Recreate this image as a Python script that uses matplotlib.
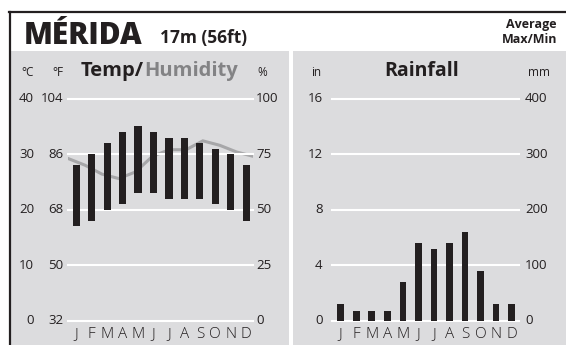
import matplotlib
matplotlib.use("Agg")
import matplotlib.pyplot as plt
from matplotlib.patches import Rectangle
from matplotlib.lines import Line2D
from matplotlib.transforms import blended_transform_factory as blend

# ---- data ----
months = ['J', 'F', 'M', 'A', 'M', 'J', 'J', 'A', 'S', 'O', 'N', 'D']
temp_max_c = [28, 30, 32, 34, 35, 34, 33, 33, 32, 31, 30, 28]
temp_min_c = [17, 18, 20, 21, 23, 23, 22, 22, 22, 21, 20, 18]
humidity_pct = [73, 70, 66, 64, 67, 74, 77, 77, 81, 79, 76, 74]
rain_mm = [29, 18, 18, 18, 69, 140, 129, 140, 160, 89, 29, 29]

c_ticks = [0, 10, 20, 30, 40]
f_ticks = ['32', '50', '68', '86', '104']
h_ticks = ['0', '25', '50', '75', '100']
in_ticks = ['0', '4', '8', '12', '16']
mm_ticks = [0, 100, 200, 300, 400]

FONT = ['Open Sans', 'DejaVu Sans']
plt.rcParams['font.family'] = FONT

W, H = 566, 345
fig = plt.figure(figsize=(W / 100, H / 100), dpi=100)
fig.patch.set_facecolor('white')

def fx(px):
    return px / W

def fy(py):
    return 1 - py / H

GRAY = '#dcdcde'
BAR = '#231f20'

# panels
fig.add_artist(Rectangle((fx(10), fy(345)), fx(289) - fx(10), fy(51) - fy(345),
                         transform=fig.transFigure, color=GRAY, zorder=0, lw=0))
fig.add_artist(Rectangle((fx(293), fy(345)), fx(566) - fx(293), fy(51) - fy(345),
                         transform=fig.transFigure, color=GRAY, zorder=0, lw=0))
# border
fig.add_artist(Line2D([fx(9), fx(566)], [fy(12), fy(12)], transform=fig.transFigure,
                      color='#231f20', lw=1.6, zorder=5))
fig.add_artist(Line2D([fx(9.5), fx(9.5)], [fy(12), fy(345)], transform=fig.transFigure,
                      color='#231f20', lw=1.6, zorder=5))

# header text
fig.text(fx(24), fy(44), 'MÉRIDA', fontsize=21.5, fontweight='heavy', color='#231f20',
         ha='left', va='baseline')
fig.text(fx(160), fy(43), '17m (56ft)', fontsize=12.5, fontweight='bold', color='#231f20',
         ha='left', va='baseline')
fig.text(fx(557), fy(28), 'Average', fontsize=9, fontweight='bold', color='#231f20',
         ha='right', va='baseline')
fig.text(fx(557), fy(43), 'Max/Min', fontsize=9, fontweight='bold', color='#231f20',
         ha='right', va='baseline')

# ---- temperature / humidity panel ----
axT = fig.add_axes([fx(68.3), fy(320.5), fx(253.3) - fx(68.3), fy(98.7) - fy(320.5)])
axT.set_xlim(-0.52, 11.46)
axT.set_ylim(0, 40)
axT.axis('off')
for c in c_ticks:
    axT.axhline(c, color='white', lw=1.5, zorder=1, clip_on=False)
x = list(range(len(months)))
axT.bar(x, [hi - lo for hi, lo in zip(temp_max_c, temp_min_c)], bottom=temp_min_c,
        width=0.47, color=BAR, zorder=3)

axH = fig.add_axes(axT.get_position(), frameon=False)
axH.set_xlim(0, len(humidity_pct) - 1)
axH.set_ylim(0, 100)
axH.axis('off')
axH.plot(range(len(humidity_pct)), humidity_pct, color='#a7a7a9', lw=2.2,
         solid_joinstyle='miter', zorder=2)
axT.set_zorder(3)
axH.set_zorder(2)
axT.patch.set_visible(False)

trT = blend(fig.transFigure, axT.transData)
for c, f, h in zip(c_ticks, f_ticks, h_ticks):
    fig.text(fx(34), c, str(c), transform=trT, ha='right', va='center', fontsize=9.5, color='#231f20')
    fig.text(fx(63.5), c, f, transform=trT, ha='right', va='center', fontsize=9.5, color='#231f20')
    fig.text(fx(256), c, h, transform=trT, ha='left', va='center', fontsize=9.5, color='#231f20')
trTx = blend(axT.transData, fig.transFigure)
for i, m in enumerate(months):
    fig.text(i, fy(335), m, transform=trTx, ha='center', va='center', fontsize=11,
             color='#231f20', fontweight='light')

fig.text(fx(27.5), fy(73), '°C', ha='center', va='center', fontsize=8.5, color='#231f20')
fig.text(fx(57.5), fy(73), '°F', ha='center', va='center', fontsize=8.5, color='#231f20')
fig.text(fx(262), fy(73), '%', ha='center', va='center', fontsize=8.5, color='#231f20')
t1 = fig.text(fx(81), fy(71), 'Temp/', ha='left', va='center', fontsize=14.5,
              fontweight='bold', color='#231f20')
fig.canvas.draw()
bb = t1.get_window_extent()
fig.text(bb.x1 / W, fy(71), 'Humidity', ha='left', va='center', fontsize=14.5,
         fontweight='bold', color='#838385')

# ---- rainfall panel ----
axR = fig.add_axes([fx(331.7), fy(320.5), fx(519.3) - fx(331.7), fy(98.7) - fy(320.5)])
axR.set_xlim(-0.58, 11.49)
axR.set_ylim(0, 400)
axR.axis('off')
for v in mm_ticks:
    axR.axhline(v, color='white', lw=1.5, zorder=1, clip_on=False)
axR.bar(x, rain_mm, width=0.43, color=BAR, zorder=3)

trR = blend(fig.transFigure, axR.transData)
for v, i_lab in zip(mm_ticks, in_ticks):
    fig.text(fx(322.5), v, i_lab, transform=trR, ha='right', va='center', fontsize=9.5, color='#231f20')
    fig.text(fx(525), v, str(v), transform=trR, ha='left', va='center', fontsize=9.5, color='#231f20')
trRx = blend(axR.transData, fig.transFigure)
for i, m in enumerate(months):
    fig.text(i, fy(335), m, transform=trRx, ha='center', va='center', fontsize=11,
             color='#231f20', fontweight='light')
fig.text(fx(316), fy(73), 'in', ha='center', va='center', fontsize=8.5, color='#231f20')
fig.text(fx(539), fy(73), 'mm', ha='center', va='center', fontsize=8.5, color='#231f20')
fig.text(fx(422), fy(71), 'Rainfall', ha='center', va='center', fontsize=14,
         fontweight='bold', color='#231f20')

fig.savefig('out.png', dpi=100, facecolor='white')
